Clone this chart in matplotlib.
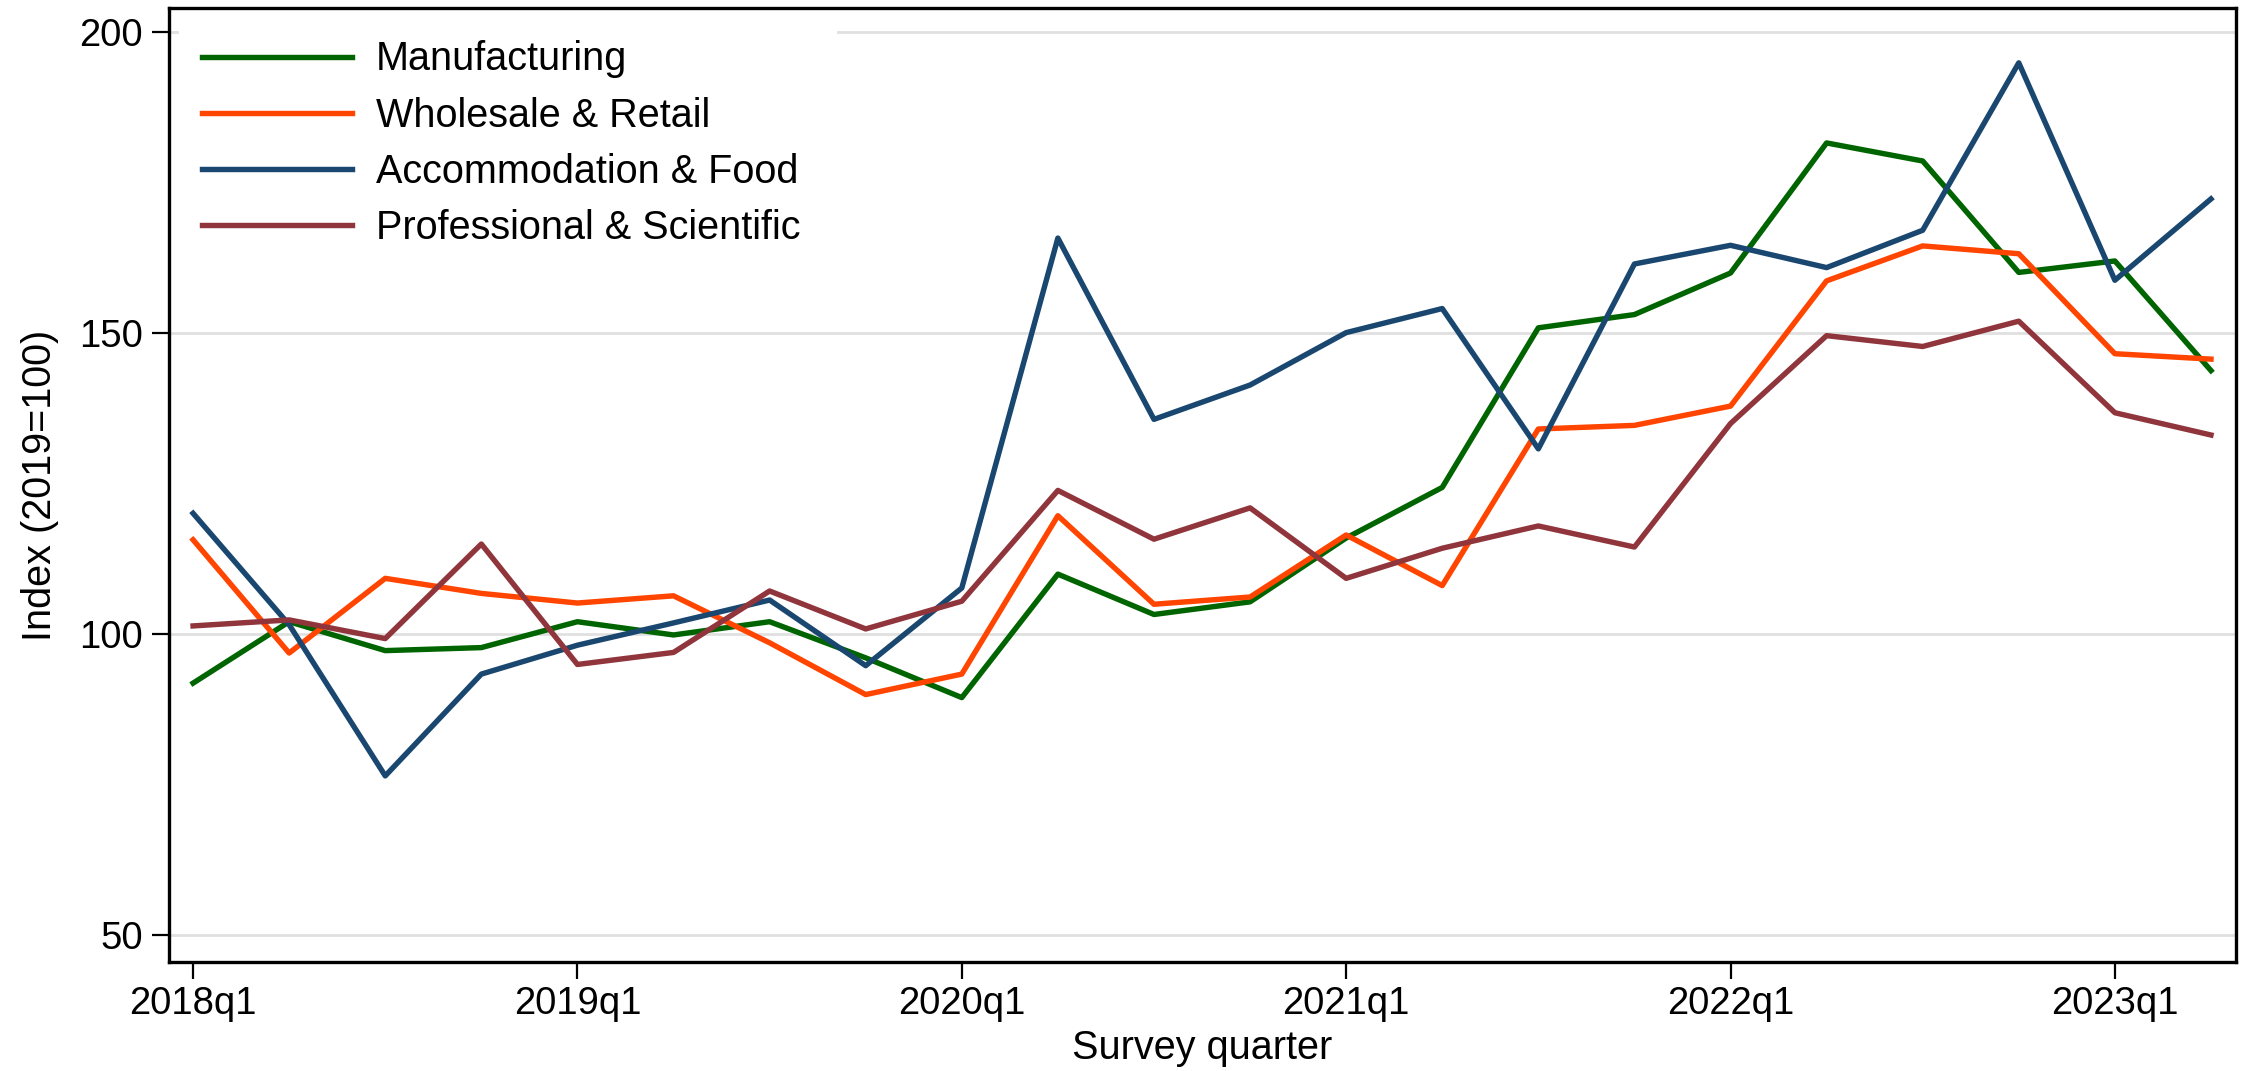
import numpy as np
import matplotlib
matplotlib.use("Agg")
import matplotlib.pyplot as plt

plt.rcParams['font.family'] = ['Liberation Sans', 'DejaVu Sans']

# quarterly index values, 2018q1 .. 2023q2
quarters = ["2018q1", "2018q2", "2018q3", "2018q4",
            "2019q1", "2019q2", "2019q3", "2019q4",
            "2020q1", "2020q2", "2020q3", "2020q4",
            "2021q1", "2021q2", "2021q3", "2021q4",
            "2022q1", "2022q2", "2022q3", "2022q4",
            "2023q1", "2023q2"]
manufacturing = [91.9, 102.1, 97.3, 97.8, 102.1, 99.9, 102.1, 96.1, 89.5, 110.0, 103.3,
                 105.4, 116.0, 124.4, 150.9, 153.1, 160.0, 181.6, 178.6, 160.1, 162.0, 143.8]
wholesale = [115.7, 96.9, 109.3, 106.8, 105.2, 106.4, 98.6, 90.0, 93.4, 119.7, 105.0,
             106.2, 116.5, 108.1, 134.1, 134.7, 137.9, 158.7, 164.5, 163.2, 146.6, 145.7]
accommodation = [120.1, 101.6, 76.5, 93.4, 98.2, 101.9, 105.7, 94.8, 107.7, 165.8, 135.7,
                 141.4, 150.1, 154.1, 130.8, 161.5, 164.6, 160.9, 167.1, 194.9, 158.8, 172.3]
professional = [101.4, 102.4, 99.3, 115.0, 95.0, 97.0, 107.2, 100.9, 105.5, 123.9, 115.8,
                121.0, 109.3, 114.3, 118.0, 114.5, 135.0, 149.6, 147.8, 152.0, 136.8, 133.1]

series = [("Manufacturing", manufacturing, "#006400"),
          ("Wholesale & Retail", wholesale, "#ff4500"),
          ("Accommodation & Food", accommodation, "#1a476f"),
          ("Professional & Scientific", professional, "#90353b")]

yticks = [50, 100, 150, 200]
xtick_labels = ["2018q1", "2019q1", "2020q1", "2021q1", "2022q1", "2023q1"]

fig = plt.figure(figsize=(22.42, 10.71), dpi=100)
ax = fig.add_axes([0.0754, 0.1018, 0.9219, 0.8907])

x = np.arange(len(quarters))
for name, vals, col in series:
    ax.plot(x, vals, color=col, lw=3.9, label=name)

ax.set_xlim(-0.25, 21.26)
ax.set_ylim(45.6, 204.0)
ax.set_yticks(yticks)
ax.set_xticks([quarters.index(q) for q in xtick_labels])
ax.set_xticklabels(xtick_labels)
ax.yaxis.grid(True, color="#e0e0e0", lw=2.0)
ax.set_axisbelow(True)

for s in ax.spines.values():
    s.set_linewidth(2.4)
ax.tick_params(axis='both', labelsize=27.5, width=1.6, length=12, direction='out')
ax.tick_params(axis='y', pad=7)
ax.tick_params(axis='x', pad=5)

ax.set_ylabel("Index (2019=100)", fontsize=28.5, labelpad=14)
ax.set_xlabel("Survey quarter", fontsize=28.5, labelpad=5)

leg = ax.legend(loc='upper left', bbox_to_anchor=(0.0, 1.0, 0.328, 0.0), mode='expand',
                fontsize=28.5, frameon=True, fancybox=False, borderaxespad=0.25,
                handlelength=3.8, handletextpad=0.6, labelspacing=0.46, borderpad=0.57)
leg.get_frame().set_facecolor('white')
leg.get_frame().set_edgecolor('none')
leg.get_frame().set_alpha(1.0)

fig.savefig("out.png", dpi=100)
